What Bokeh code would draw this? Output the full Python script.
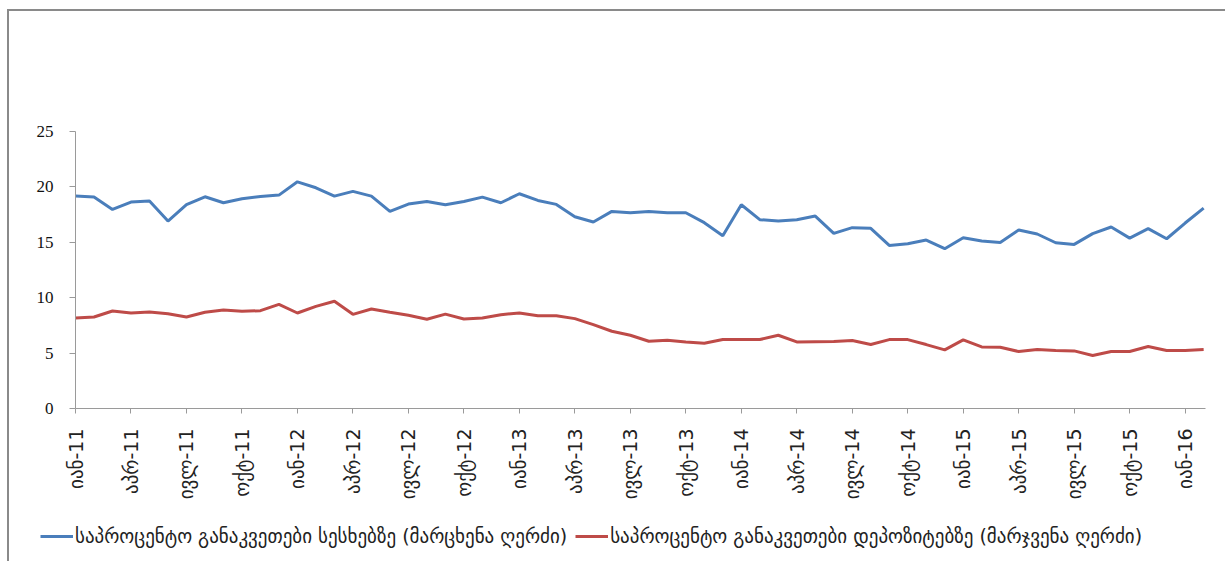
import math
from bokeh.plotting import figure
from bokeh.layouts import column
from bokeh.models import Range1d, FixedTicker, Legend, LegendItem
from bokeh.embed import file_html
from bokeh.resources import INLINE

month_names = ["იან", "თებ", "მარ", "აპრ", "მაი", "ივნ", "ივლ", "აგვ", "სექ", "ოქტ", "ნოე", "დეკ"]
years = ["11", "12", "13", "14", "15", "16"]
month_labels = [f"{m}-{y}" for y in years for m in month_names][:62]  # Jan-11 .. Feb-16

loans = [19.17, 19.08, 17.97, 18.63, 18.72, 16.92, 18.39, 19.11, 18.57, 18.93,
         19.14, 19.26, 20.46, 19.92, 19.17, 19.60, 19.17, 17.79, 18.45, 18.69,
         18.39, 18.69, 19.08, 18.57, 19.38, 18.78, 18.42, 17.31, 16.83, 17.79,
         17.67, 17.79, 17.67, 17.67, 16.77, 15.60, 18.39, 17.04, 16.92, 17.04,
         17.37, 15.80, 16.32, 16.26, 14.72, 14.87, 15.20, 14.42, 15.41, 15.11,
         14.99, 16.11, 15.75, 14.96, 14.81, 15.78, 16.38, 15.38, 16.23, 15.32,
         16.74, 18.09]
deposits = [8.17, 8.26, 8.80, 8.62, 8.71, 8.56, 8.26, 8.68, 8.89, 8.77,
            8.83, 9.40, 8.62, 9.22, 9.68, 8.50, 8.98, 8.68, 8.41, 8.05,
            8.52, 8.08, 8.17, 8.47, 8.62, 8.38, 8.38, 8.11, 7.57, 6.97,
            6.61, 6.07, 6.16, 6.01, 5.89, 6.22, 6.22, 6.22, 6.61, 6.01,
            6.03, 6.05, 6.13, 5.77, 6.22, 6.22, 5.77, 5.29, 6.19, 5.56,
            5.53, 5.14, 5.32, 5.23, 5.20, 4.78, 5.14, 5.14, 5.59, 5.23,
            5.23, 5.32]
y_ticks = [0, 5, 10, 15, 20, 25]
x_tick_idx = list(range(0, 62, 3))

loan_label = "საპროცენტო განაკვეთები სესხებზე (მარცხენა ღერძი)"
dep_label = "საპროცენტო განაკვეთები დეპოზიტებზე (მარჯვენა ღერძი)"

BLUE = "#4A7EBB"
RED = "#BE4B48"

x = list(range(len(loans)))

p = figure(width=1216, height=505, output_backend="svg", toolbar_location=None,
           x_range=Range1d(0, 61.1), y_range=Range1d(0, 25),
           min_border_left=66, min_border_right=20, min_border_top=120,
           min_border_bottom=108)
p.outline_line_color = None
p.grid.visible = False

p.line(x, loans, line_color=BLUE, line_width=3)
p.line(x, deposits, line_color=RED, line_width=3)

axis_col = "#9a9a9a"
p.yaxis.ticker = FixedTicker(ticks=y_ticks)
p.yaxis.axis_line_color = axis_col
p.yaxis.major_tick_line_color = axis_col
p.yaxis.major_tick_out = 6
p.yaxis.major_tick_in = 0
p.yaxis.minor_tick_line_color = None
p.yaxis.major_label_standoff = 16
p.yaxis.major_label_text_font = "Liberation Serif"
p.yaxis.major_label_text_font_size = "17px"
p.yaxis.major_label_text_color = "#111111"

p.xaxis.ticker = FixedTicker(ticks=x_tick_idx)
p.xaxis.major_label_overrides = {i: month_labels[i] for i in x_tick_idx}
p.xaxis.major_label_orientation = math.pi / 2
p.xaxis.axis_line_color = axis_col
p.xaxis.major_tick_line_color = axis_col
p.xaxis.major_tick_out = 5
p.xaxis.major_tick_in = 0
p.xaxis.minor_tick_line_color = None
p.xaxis.major_label_standoff = 15
p.xaxis.major_label_text_font = "DejaVu Sans"
p.xaxis.major_label_text_font_size = "19px"
p.xaxis.major_label_text_color = "#222222"

# legend strip below the chart
lf = figure(width=1216, height=45, output_backend="svg", toolbar_location=None,
            x_range=Range1d(0, 1), y_range=Range1d(0, 1),
            x_axis_location=None, y_axis_location=None,
            min_border_left=0, min_border_right=0, min_border_top=0,
            min_border_bottom=0)
for fig in (p, lf):
    if "frame_align" in fig.properties():
        fig.frame_align = False
lf.grid.visible = False
lf.outline_line_color = None
d1 = lf.line([5, 6], [5, 6], line_color=BLUE, line_width=3)
d2 = lf.line([5, 6], [5, 6], line_color=RED, line_width=3)
legend = Legend(items=[LegendItem(label=loan_label, renderers=[d1]),
                       LegendItem(label=dep_label, renderers=[d2])],
                orientation="horizontal", location=(31, 14),
                glyph_width=33, glyph_height=16, label_standoff=2, spacing=8,
                padding=0, margin=0, border_line_color=None,
                background_fill_alpha=0,
                label_text_font="DejaVu Sans", label_text_font_size="19px",
                label_text_color="#222222")
lf.add_layout(legend, "center")

layout = column(p, lf, spacing=0)
layout.styles = {"margin-left": "7px", "margin-top": "9px",
                 "border-left": "2px solid #8a8a8a", "border-top": "2px solid #8a8a8a"}

open("out.html", "w").write(file_html(layout, INLINE))
